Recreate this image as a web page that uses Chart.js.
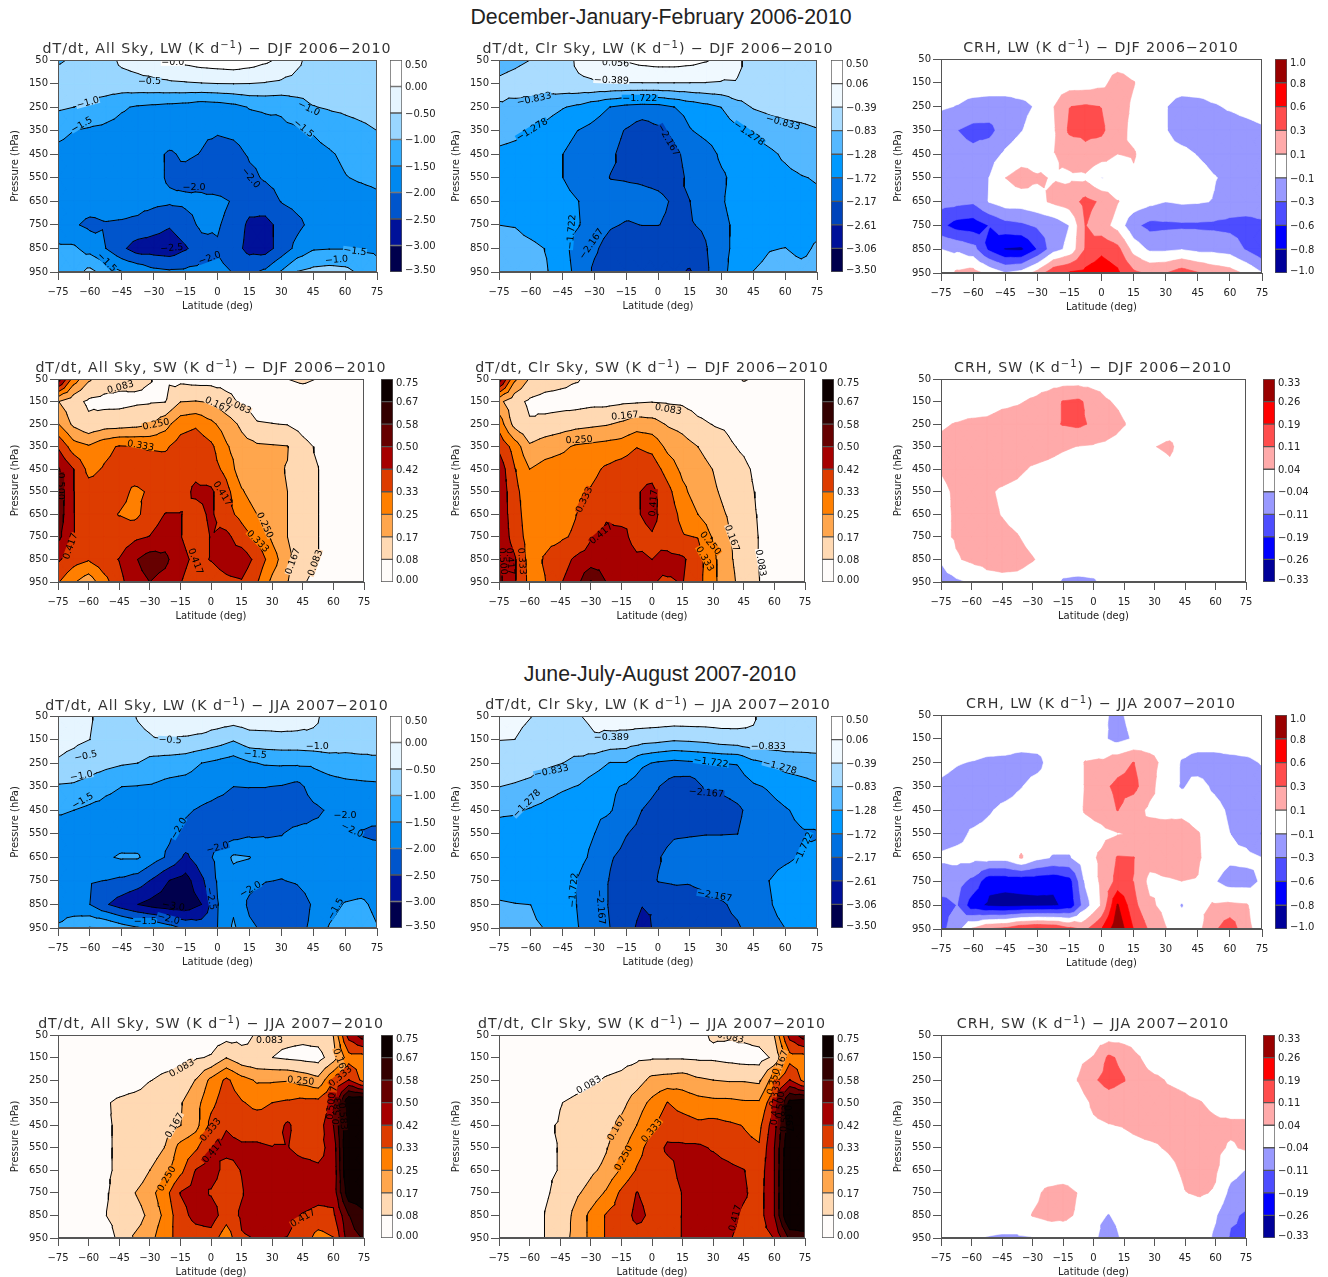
<!DOCTYPE html>
<html><head><meta charset="utf-8"><title>Radiative heating</title>
<script src="https://cdn.jsdelivr.net/npm/chart.js@4"></script>
<style>
body{margin:0;background:#fff;width:1328px;height:1277px;position:relative;overflow:hidden}
canvas{position:absolute}
.t{position:absolute;white-space:nowrap;transform:translate(-50%,-50%);font:14.2px "DejaVu Sans";letter-spacing:.95px;color:#333;line-height:18px}
.t sup{font-size:10px;line-height:0;vertical-align:5px}
.h{position:absolute;white-space:nowrap;transform:translate(-50%,-50%);font:21.3px "Liberation Sans";color:#222}
</style></head><body>
<script>
const latitudes=[-75,-67.5,-60,-52.5,-45,-37.5,-30,-22.5,-15,-7.5,0,7.5,15,22.5,30,37.5,45,52.5,60,67.5,75];
const pressures=[50,150,250,350,450,550,650,750,850,950];
const lwLevels=[-3.5,-3,-2.5,-2,-1.5,-1,-0.5,0,0.5];
const lwTicks=['−3.50','−3.00','−2.50','−2.00','−1.50','−1.00','−0.50','0.00','0.50'];
const clrLwLevels=[-3.5,-3.056,-2.611,-2.167,-1.722,-1.278,-0.833,-0.389,0.056,0.5];
const clrLwTicks=['−3.50','−3.06','−2.61','−2.17','−1.72','−1.28','−0.83','−0.39','0.06','0.50'];
const swLevels=[0,0.083,0.167,0.25,0.333,0.417,0.5,0.583,0.667,0.75];
const swTicks=['0.00','0.08','0.17','0.25','0.33','0.42','0.50','0.58','0.67','0.75'];
const crhLwLevels=[-1,-0.778,-0.556,-0.333,-0.111,0.111,0.333,0.556,0.778,1];
const crhLwTicks=['−1.0','−0.8','−0.6','−0.3','−0.1','0.1','0.3','0.6','0.8','1.0'];
const crhSwLevels=[-0.333,-0.259,-0.185,-0.111,-0.037,0.037,0.111,0.185,0.259,0.333];
const crhSwTicks=['−0.33','−0.26','−0.19','−0.11','−0.04','0.04','0.11','0.19','0.26','0.33'];

const djfAllLw=[
[-1.05,-.95,-.85,-.7,-.4,-.3,-.15,.05,.15,.25,.3,.35,.25,.1,-.1,-.4,-.7,-.8,-.85,-.9,-.9],
[-.8,-.78,-.75,-.72,-.7,-.65,-.62,-.58,-.55,-.52,-.5,-.49,-.5,-.53,-.58,-.65,-.72,-.76,-.8,-.82,-.85],
[-.92,-1,-1.07,-1.25,-1.45,-1.55,-1.6,-1.65,-1.7,-1.8,-1.75,-1.65,-1.47,-1.42,-1.43,-1.25,-1.02,-.95,-.9,-.85,-.8],
[-1.4,-1.5,-1.57,-1.62,-1.66,-1.7,-1.72,-1.75,-1.8,-1.92,-1.95,-1.9,-1.8,-1.7,-1.6,-1.55,-1.47,-1.33,-1.2,-1.1,-1],
[-1.6,-1.65,-1.7,-1.72,-1.75,-1.8,-1.9,-2.05,-1.93,-2.02,-2.2,-2.15,-1.95,-1.9,-1.8,-1.72,-1.63,-1.55,-1.42,-1.3,-1.25],
[-1.7,-1.72,-1.75,-1.77,-1.8,-1.83,-1.9,-2.05,-2.15,-2.25,-2.45,-2.45,-2.1,-1.95,-1.85,-1.78,-1.72,-1.65,-1.52,-1.45,-1.4],
[-1.75,-1.78,-1.8,-1.82,-1.83,-1.85,-1.88,-1.93,-1.9,-1.85,-1.85,-2.05,-2.3,-2.25,-1.98,-1.85,-1.78,-1.73,-1.7,-1.68,-1.6],
[-1.8,-1.95,-2.1,-2.03,-2.05,-2.1,-2.3,-2.45,-2.2,-1.9,-1.95,-2.2,-2.6,-2.65,-2.35,-2.12,-1.85,-1.75,-1.72,-1.7,-1.65],
[-1.42,-1.42,-1.7,-2,-2.4,-2.75,-2.75,-2.8,-2.55,-2.2,-2.05,-2.3,-2.65,-2.7,-2.3,-1.85,-1.55,-1.52,-1.52,-1.55,-1.58],
[-1.3,-1.2,-.85,-1.2,-1.48,-1.6,-1.85,-1.92,-1.9,-1.85,-1.85,-2.02,-2.1,-1.9,-1.45,-.98,-.85,-.8,-.85,-1.1,-1.35]];
const djfClrLw=[
[-.95,-.9,-.83,-.75,-.6,-.3,-.2,-.02,.1,.2,.25,.25,.2,.1,-.05,-.3,-.6,-.7,-.72,-.75,-.75],
[-.78,-.72,-.65,-.6,-.52,-.46,-.42,-.41,-.41,-.41,-.41,-.41,-.41,-.41,-.43,-.42,-.5,-.55,-.55,-.57,-.6],
[-.85,-.9,-.98,-1.1,-1.25,-1.37,-1.55,-1.73,-1.85,-1.9,-1.88,-1.73,-1.55,-1.42,-1.27,-1,-.8,-.7,-.65,-.6,-.55],
[-1.1,-1.17,-1.3,-1.42,-1.6,-1.73,-1.85,-2,-2.2,-2.4,-2.25,-2.08,-1.75,-1.6,-1.5,-1.35,-1.23,-1.1,-1,-.95,-.87],
[-1.37,-1.42,-1.45,-1.5,-1.72,-1.85,-1.95,-2.1,-2.3,-2.45,-2.45,-2.25,-2.05,-1.9,-1.65,-1.55,-1.45,-1.35,-1.22,-1.1,-1.05],
[-1.5,-1.53,-1.55,-1.6,-1.72,-1.85,-2,-2.18,-2.2,-2.22,-2.25,-2.3,-2.1,-1.95,-1.78,-1.6,-1.5,-1.42,-1.37,-1.3,-1.25],
[-1.55,-1.55,-1.57,-1.6,-1.63,-1.72,-1.85,-1.95,-2,-2.05,-2.1,-2.2,-2.17,-1.95,-1.75,-1.6,-1.55,-1.5,-1.47,-1.4,-1.35],
[-1.28,-1.3,-1.45,-1.55,-1.63,-1.7,-1.95,-2.12,-2.2,-2.16,-2.16,-2.22,-2.2,-2.1,-1.8,-1.65,-1.6,-1.55,-1.5,-1.45,-1.4],
[-1.1,-1.1,-1.17,-1.3,-1.6,-1.9,-2.1,-2.35,-2.45,-2.45,-2.45,-2.45,-2.4,-2.2,-1.85,-1.6,-1.45,-1.3,-1.27,-1.38,-1.22],
[-1,-1.05,-1.15,-1.25,-1.55,-1.85,-2.25,-2.4,-2.45,-2.5,-2.5,-2.52,-2.65,-2.25,-1.85,-1.5,-1.27,-1.15,-1.1,-1.15,-1.15]];
const djfCrhLw=[
[0,0,0,0,0,0,0,0,0,0,0,0,0,0,0,0,0,0,0,0,0],
[0,0,0,0,0,0,0,0,0,0,.05,.2,.12,0,0,0,0,0,0,0,0],
[-.08,-.12,-.18,-.2,-.2,-.16,-.09,.1,.33,.36,.33,.2,.08,0,-.1,-.2,-.18,-.13,-.09,-.05,-.02],
[-.25,-.33,-.4,-.4,-.22,-.12,-.02,.08,.37,.38,.37,.2,.05,0,-.1,-.2,-.22,-.2,-.2,-.18,-.14],
[-.2,-.25,-.28,-.2,-.08,0,.02,.1,.18,.28,.22,.11,.13,0,-.05,-.06,-.12,-.18,-.2,-.2,-.2],
[-.2,-.22,-.2,-.11,.11,.2,.13,.1,.08,.07,-.12,-.05,.08,0,0,0,-.03,-.1,-.15,-.2,-.2],
[-.25,-.27,-.3,-.1,0,0,.05,.15,.22,.4,.3,.12,.03,-.05,-.11,-.08,-.09,-.12,-.2,-.2,-.2],
[-.5,-.65,-.68,-.55,-.42,-.38,-.3,-.25,-.11,.34,.2,.03,-.28,-.4,-.38,-.37,-.37,-.38,-.4,-.42,-.38],
[-.11,-.15,-.25,-.6,-.8,-.82,-.55,-.2,-.05,.35,.5,.4,.03,-.15,-.15,-.12,-.17,-.17,-.2,-.35,-.5],
[-.05,.15,.2,.05,-.1,-.03,.2,.5,.58,.62,.7,.6,.38,.3,.33,.45,.35,.25,.2,.08,-.1]];
const djfAllSw=[
[.55,.3,.18,.13,.11,.1,.085,.07,.06,.05,.05,.05,.05,.06,.07,.083,.1,.08,.06,.05,.05],
[.17,.11,.07,.06,.06,.07,.075,.08,.165,.17,.16,.11,.07,.04,.03,.02,.02,.02,.02,.02,.02],
[.255,.15,.1,.125,.13,.14,.16,.22,.3,.32,.27,.21,.15,.09,.085,.08,.05,.02,.01,.01,.01],
[.41,.29,.26,.31,.34,.335,.325,.32,.37,.39,.35,.26,.2,.18,.175,.17,.11,.07,.02,.01,.01],
[.51,.42,.31,.34,.36,.37,.37,.38,.39,.4,.37,.31,.2,.18,.175,.165,.11,.085,.02,.01,.01],
[.55,.42,.37,.37,.36,.32,.34,.36,.39,.43,.43,.36,.26,.2,.175,.167,.11,.085,.02,.01,.01],
[.55,.42,.38,.36,.33,.31,.37,.42,.42,.39,.43,.36,.31,.25,.2,.167,.11,.085,.02,.01,.01],
[.52,.42,.38,.36,.37,.4,.42,.46,.42,.38,.42,.44,.37,.32,.235,.167,.11,.085,.02,.01,.01],
[.43,.37,.34,.39,.42,.49,.54,.52,.44,.4,.42,.45,.47,.39,.29,.19,.11,.085,.02,.01,.01],
[.34,.26,.2,.3,.39,.47,.5,.47,.42,.38,.38,.4,.41,.34,.23,.17,.09,.06,.02,.01,.01]];
const djfClrSw=[
[.55,.27,.16,.13,.11,.09,.07,.06,.05,.05,.05,.05,.05,.05,.05,.05,.09,.07,.04,.03,.03],
[.19,.11,.07,.05,.05,.05,.06,.06,.07,.075,.08,.075,.07,.05,.04,.03,.02,.02,.02,.02,.02],
[.3,.14,.09,.11,.125,.14,.15,.16,.18,.21,.2,.16,.14,.1,.08,.07,.04,.03,.02,.02,.02],
[.4,.3,.18,.21,.23,.26,.27,.28,.29,.33,.31,.23,.2,.167,.13,.095,.07,.03,.02,.02,.02],
[.47,.34,.25,.28,.29,.3,.31,.345,.37,.39,.38,.3,.23,.2,.165,.12,.1,.06,.02,.02,.02],
[.48,.36,.28,.29,.3,.32,.34,.37,.38,.41,.44,.36,.27,.21,.18,.14,.11,.07,.02,.02,.02],
[.48,.37,.29,.3,.3,.33,.37,.41,.39,.41,.44,.38,.31,.25,.2,.16,.12,.075,.02,.02,.02],
[.49,.38,.3,.31,.32,.345,.41,.43,.44,.39,.41,.38,.34,.33,.24,.175,.13,.08,.02,.02,.02],
[.51,.43,.3,.34,.38,.43,.45,.47,.46,.43,.417,.44,.43,.37,.27,.18,.135,.08,.02,.02,.02],
[.52,.43,.31,.33,.41,.46,.59,.5,.47,.45,.42,.41,.42,.36,.27,.19,.14,.085,.02,.02,.02]];
const djfCrhSw=[
[0,0,0,0,0,0,0,0,0,0,0,0,0,0,0,0,0,0,0,0,0],
[0,0,0,0,.02,.03,.045,.07,.115,.125,.08,.04,.02,0,0,0,0,0,0,0,0],
[.03,.04,.05,.055,.07,.07,.08,.09,.115,.125,.1,.07,.04,.01,0,0,0,0,0,0,0],
[.05,.06,.065,.07,.07,.07,.07,.06,.045,.035,.03,.02,.01,0,.035,.05,0,0,0,0,0],
[.04,.055,.06,.06,.06,.05,.03,.02,.01,0,0,0,0,0,0,.02,0,0,0,0,0],
[.025,.045,.05,.045,.03,.02,0,0,0,0,0,0,0,0,0,0,0,0,0,0,0],
[.02,.045,.055,.05,.035,.02,0,0,0,0,0,0,0,0,0,0,0,0,0,0,0],
[.02,.045,.06,.06,.05,.04,.02,0,0,0,0,0,0,0,0,0,0,0,0,0,0],
[-.03,.03,.05,.06,.06,.055,.04,.02,0,0,0,0,0,0,0,0,0,0,0,0,0],
[-.07,-.05,-.03,.01,.02,.02,.01,0,-.045,-.05,-.045,-.01,0,0,-.02,-.02,0,0,0,0,0]];
const jjaAllLw=[
[-.3,-.33,-.46,-.68,-.72,-.47,-.35,-.25,-.2,-.2,-.2,-.2,-.2,-.2,-.2,-.25,-.4,-.65,-.7,-.75,-.75],
[-.4,-.43,-.5,-.65,-.72,-.6,-.52,-.5,-.55,-.6,-.75,-.95,-.7,-.68,-.65,-.65,-.6,-.6,-.75,-.75,-.8],
[-.53,-.62,-.75,-.85,-.95,-1,-1.2,-1.25,-1.3,-1.5,-1.62,-1.75,-1.55,-1.45,-1.43,-1.43,-1.42,-1.3,-1.2,-1.15,-1.1],
[-1.05,-1.08,-1.2,-1.4,-1.5,-1.52,-1.55,-1.65,-1.7,-1.8,-1.9,-2,-1.99,-1.99,-2.03,-2.15,-1.8,-1.7,-1.65,-1.62,-1.6],
[-1.45,-1.5,-1.6,-1.65,-1.7,-1.72,-1.75,-1.8,-1.95,-2.05,-2.12,-2.15,-2.25,-2.25,-2.3,-2.3,-2.1,-1.95,-1.88,-1.85,-1.8],
[-1.7,-1.65,-1.6,-1.72,-1.72,-1.75,-1.82,-1.93,-2.1,-2.2,-2.2,-2.2,-2.08,-2.05,-2.02,-1.85,-1.85,-1.87,-1.9,-2.03,-2.1],
[-1.75,-1.75,-1.7,-1.55,-1.45,-1.45,-1.8,-2.1,-2.6,-2.2,-1.9,-1.42,-1.48,-1.75,-1.78,-1.78,-1.75,-1.75,-1.75,-1.75,-1.75],
[-1.8,-1.85,-1.97,-2.01,-2.1,-2.25,-2.6,-3.02,-3.2,-2.6,-1.95,-1.7,-1.85,-1.98,-2.02,-1.95,-1.8,-1.78,-1.75,-1.73,-1.72],
[-1.7,-1.75,-2,-2.45,-2.75,-3,-3.2,-3.3,-3.3,-3,-2.02,-1.6,-2.1,-2.3,-2.4,-2.25,-1.95,-1.65,-1.47,-1.42,-1.6],
[-1.45,-1.25,-.97,-.98,-1.25,-1.45,-1.55,-1.8,-2.1,-2.2,-2,-1.42,-1.9,-2.1,-2.2,-2.15,-1.9,-1.47,-1.3,-1.3,-1.48]];
const jjaClrLw=[
[-.3,-.3,-.38,-.6,-.7,-.41,-.3,-.2,-.15,-.1,-.1,-.1,-.1,-.12,-.15,-.2,-.35,-.6,-.65,-.7,-.85],
[-.38,-.39,-.5,-.6,-.65,-.55,-.43,-.5,-.55,-.65,-.7,-.78,-.75,-.7,-.6,-.55,-.45,-.5,-.55,-.58,-.6],
[-.6,-.65,-.7,-.75,-.83,-.95,-1.1,-1.3,-1.3,-1.65,-1.78,-1.85,-1.8,-1.75,-1.72,-1.7,-1.4,-1.27,-1.1,-1.05,-1],
[-.83,-.87,-.92,-1.1,-1.22,-1.3,-1.5,-1.65,-1.78,-2,-2.15,-2.4,-2.45,-2.1,-2.05,-1.95,-1.78,-1.68,-1.55,-1.45,-1.35],
[-1.2,-1.22,-1.32,-1.42,-1.5,-1.57,-1.65,-1.7,-1.9,-2.17,-2.3,-2.4,-2.45,-2.45,-2.4,-2.25,-2,-1.85,-1.75,-1.65,-1.55],
[-1.45,-1.5,-1.55,-1.55,-1.58,-1.6,-1.72,-1.9,-2.15,-2.3,-2.35,-2.22,-2.2,-2.18,-2.18,-2.17,-1.95,-1.85,-1.8,-1.75,-1.75],
[-1.5,-1.5,-1.52,-1.55,-1.58,-1.63,-1.8,-2.13,-2.3,-2.4,-2.2,-2,-1.95,-1.95,-1.93,-1.9,-1.87,-1.83,-1.78,-1.7,-1.63],
[-1.4,-1.42,-1.45,-1.5,-1.58,-1.75,-1.95,-2.2,-2.4,-2.45,-2.15,-2.1,-2.12,-2.05,-2,-1.95,-1.88,-1.72,-1.6,-1.55,-1.5],
[-1.25,-1.27,-1.28,-1.45,-1.55,-1.75,-2,-2.2,-2.45,-2.6,-2.6,-2.5,-2.4,-2.28,-2.2,-2.1,-1.95,-1.75,-1.6,-1.55,-1.5],
[-1.1,-1.15,-1.2,-1.3,-1.5,-1.72,-1.95,-2.17,-2.5,-2.7,-2.55,-2.45,-2.4,-2.3,-2.25,-2.2,-2.05,-1.82,-1.72,-1.6,-1.5]];
const jjaCrhLw=[
[0,0,0,0,0,0,0,0,0,0,-.08,-.15,-.05,0,0,0,0,0,0,0,0],
[0,0,0,0,0,0,0,0,0,0,-.07,-.18,-.09,0,0,0,0,0,0,0,0],
[-.06,-.1,-.12,-.15,-.16,-.2,-.18,0,.03,.12,.14,.25,.34,.18,.05,-.13,-.2,-.2,-.17,-.15,-.1],
[-.14,-.17,-.2,-.22,-.2,-.12,-.03,0,0,.12,.28,.38,.4,.18,-.02,-.13,-.05,-.14,-.2,-.2,-.18],
[-.17,-.18,-.2,-.13,-.06,-.02,0,0,0,.13,.2,.34,.2,.07,.05,.03,-.03,-.05,-.14,-.2,-.2],
[-.2,-.17,-.08,-.05,0,.03,0,0,0,.02,.05,.1,.13,.2,.2,.25,.13,-.02,-.11,-.2,-.35],
[-.08,-.05,-.05,-.03,-.03,.13,-.05,-.13,-.13,.03,.15,.35,.34,.2,.2,.2,.14,0,-.07,-.05,-.11],
[-.22,-.25,-.4,-.72,-.72,-.72,-.72,-.74,-.65,-.08,.15,.4,.33,.05,.09,.11,.1,-.09,-.2,-.2,-.08],
[-.4,-.33,-.7,-.82,-.85,-.83,-.82,-.81,-.72,-.2,.13,.8,.4,.15,.05,-.13,.05,.13,.15,.13,0],
[-.4,-.2,.15,.35,.4,.55,.6,.57,.4,.3,.55,.95,.55,.3,.12,.03,.05,.28,.5,.15,.05]];
const jjaAllSw=[
[.01,.01,.01,.01,.01,.01,.01,.02,.03,.03,.04,.05,.06,.09,.1,.1,.1,.12,.17,.45,.55],
[.01,.01,.01,.02,.02,.03,.04,.05,.06,.075,.09,.165,.11,.095,.083,.07,.06,.05,.13,.3,.3],
[.01,.01,.01,.02,.03,.04,.08,.1,.11,.17,.27,.35,.28,.24,.24,.245,.22,.19,.33,.42,.3],
[.01,.01,.01,.07,.1,.12,.13,.14,.16,.22,.31,.38,.34,.31,.333,.345,.36,.36,.42,.76,.78],
[.01,.01,.01,.075,.09,.12,.13,.14,.165,.22,.36,.41,.38,.38,.37,.43,.37,.37,.5,.76,.78],
[.01,.01,.01,.075,.09,.105,.12,.17,.28,.32,.41,.44,.43,.43,.42,.42,.39,.39,.45,.78,.78],
[.01,.01,.01,.075,.09,.1,.167,.22,.31,.42,.45,.39,.42,.46,.47,.46,.45,.43,.44,.78,.78],
[.01,.01,.01,.075,.1,.165,.22,.3,.42,.45,.41,.38,.41,.47,.48,.48,.47,.45,.45,.72,.72],
[.01,.01,.01,.08,.1,.12,.19,.27,.39,.44,.46,.37,.43,.45,.46,.44,.41,.39,.4,.58,.65],
[.01,.01,.01,.05,.095,.18,.22,.31,.36,.38,.38,.28,.41,.42,.42,.415,.38,.3,.33,.55,.59]];
const jjaClrSw=[
[.01,.01,.01,.01,.01,.01,.01,.01,.01,.01,.01,.02,.05,.07,.09,.09,.1,.12,.17,.45,.55],
[.01,.01,.01,.02,.02,.03,.04,.05,.06,.07,.075,.075,.075,.07,.07,.06,.05,.05,.1,.3,.3],
[.01,.01,.01,.02,.03,.05,.07,.09,.1,.13,.19,.2,.21,.18,.167,.16,.16,.15,.3,.42,.3],
[.01,.01,.01,.03,.08,.1,.115,.125,.14,.21,.27,.335,.3,.28,.27,.27,.26,.26,.4,.7,.72],
[.01,.01,.01,.07,.09,.105,.115,.13,.19,.25,.32,.38,.37,.35,.36,.345,.33,.31,.47,.72,.76],
[.01,.01,.01,.075,.085,.1,.11,.16,.23,.3,.37,.43,.43,.43,.41,.38,.35,.34,.5,.76,.78],
[.01,.01,.01,.075,.085,.1,.15,.19,.26,.34,.38,.39,.44,.45,.45,.44,.42,.37,.5,.78,.78],
[.01,.01,.01,.075,.1,.15,.2,.26,.35,.42,.39,.38,.42,.46,.46,.46,.43,.38,.5,.78,.78],
[.01,.01,.01,.085,.11,.19,.27,.34,.37,.44,.4,.38,.42,.46,.46,.45,.4,.38,.5,.78,.78],
[.01,.01,.01,.085,.13,.19,.27,.34,.37,.38,.39,.39,.42,.46,.46,.425,.39,.38,.42,.6,.62]];
const jjaCrhSw=[
[0,0,0,0,0,0,0,0,0,0,0,0,0,0,0,0,0,0,0,0,0],
[0,0,0,0,0,0,0,0,0,.02,.04,.125,.09,.04,0,0,0,0,0,0,0],
[0,0,0,0,0,0,0,0,0,.04,.1,.14,.115,.06,.05,.03,.02,0,0,0,0],
[0,0,0,0,0,0,0,0,0,0,.05,.07,.06,.06,.06,.06,.05,.04,.02,0,0],
[0,0,0,0,0,0,0,0,0,0,.025,.035,.04,.05,.06,.06,.06,.06,.05,.05,.05],
[0,0,0,0,0,0,0,0,0,0,0,0,.02,.025,.03,.045,.06,.06,.05,.03,.045],
[0,0,0,0,0,0,0,0,0,0,0,0,0,0,0,.02,.05,.07,.045,-.01,-.04],
[0,0,0,0,0,0,.02,.05,.06,.035,0,0,0,0,0,0,.035,.045,.03,-.06,-.08],
[0,0,0,0,0,0,.04,.055,.05,.03,-.02,-.04,-.01,0,0,0,0,0,-.03,-.1,-.12],
[0,0,-.02,-.04,-.045,-.045,-.04,-.02,0,0,-.02,-.08,-.02,0,0,0,0,0,-.05,-.12,-.12]];

const djfAllLwLabels=[['−0.0',-21,60,0],['−0.5',-32,140,0],['−1.0',-61,230,-15],['−1.5',-64,325,-30],['−1.0',43,255,25],['−1.5',40.5,340,40],['−2.0',-11,590,0],['−2.0',15.7,550,50],['−2.5',-21.5,847,-5],['−2.0',-3.7,890,-20],['−1.5',64.6,860,8],['−1.0',56,897,-5],['−1.5',-52,908,45]];
const djfClrLwLabels=[['0.056',-20,62,3],['−0.389',-22,135,2],['−0.833',-58.5,215,-12],['−1.278',-59.5,345,-32],['−1.722',-8.6,212,0],['−2.167',5,390,60],['−1.278',43,361,35],['−0.833',59,315,15],['−1.722',-41,780,-85],['−2.167',-31.5,830,-55]];
const djfAllSwLabels=[['0.083',-44.4,85,-15],['0.083',13.4,168,25],['0.167',3.3,164,25],['0.250',-27,250,-12],['0.333',-34.5,344,10],['0.500',-73.7,525,90],['0.417',5.7,558,58],['0.250',26.5,698,65],['0.333',23,769,45],['0.167',40,858,-70],['0.083',51,865,-70],['0.417',-69,791,-70],['0.417',-7.5,858,70]];
const djfClrSwLabels=[['0.083',8,183,10],['0.167',-13.3,212,-5],['0.250',-35.7,319,-3],['0.333',-33.3,585,-65],['0.417',0.6,600,-85],['0.417',-25,735,-40],['0.250',28.7,777,50],['0.333',26,847,60],['0.167',39.3,755,70],['0.083',53.4,865,80],['0.500',-73,858,85],['0.417',-69.4,858,85],['0.333',-63.7,858,85]];
const jjaAllLwLabels=[['−0.5',-62,219,-12],['−0.5',-22.3,151,3],['−1.0',46.9,176,0],['−1.5',17.8,212,5],['−1.0',-64,303,-10],['−1.5',-63.5,409,-30],['−2.0',-18.4,527,-60],['−2.0',60,470,0],['−2.0',63.4,534,25],['−2.0',0,608,-15],['−2.0',15.4,785,-30],['−2.5',-3,825,80],['−3.0',-20.7,856,10],['−1.5',-34,922,0],['−2.0',-23,910,15],['−1.5',55.5,868,-60]];
const jjaClrLwLabels=[['−0.389',-22,139,0],['−0.833',-50.3,283,-12],['−1.278',-62,421,-45],['−1.722',-40,790,-85],['−2.167',-27,861,85],['−2.167',22.8,375,5],['−1.722',25,245,8],['−1.278',57.4,265,15],['−0.833',52,179,0],['−1.722',68.4,612,-65],['−2.167',26.7,812,10]];
const jjaAllSwLabels=[['0.083',28.7,74,0],['0.083',-14.4,196,-30],['0.167',-18,450,-60],['0.333',-0.3,470,-50],['0.417',0.8,565,-50],['0.250',-21.8,687,-60],['0.250',44,252,5],['0.417',45,861,-30],['0.167',63.4,167,70],['0.333',63.4,233,-40],['0.417',59.3,336,-80],['0.500',58.8,366,-85],['0.583',61.8,388,-85],['0.583',64.7,410,85]];
const jjaClrSwLabels=[['0.083',38.5,59,12],['0.083',-31,270,-30],['0.167',-17.4,462,-60],['0.250',-14,595,-60],['0.333',-0.2,474,-50],['0.417',40.7,861,-75],['0.167',63,176,-70],['0.250',59.5,257,-75],['0.333',60.3,309,-80],['0.417',60.3,390,-85],['0.500',62.8,360,-85],['0.583',65,420,-85],['0.667',67,420,85]];

const blues8=['#00004d','#001199','#0055cc','#0088f0','#33adff','#99d6ff','#e6f5ff','#ffffff'];
const blues9=['#00004d','#001199','#0044bb','#0070e0','#0099ff','#55b8ff','#aadcff','#f0f9ff','#ffffff'];
const oranges=['#fffcfa','#ffd9b3','#ffa64d','#ff7f00','#dd3c00','#a60000','#660000','#330000','#0d0000'];
const bwr=['#000099','#0000ff','#4d4dff','#9999ff','#ffffff','#ffaaaa','#ff4d4d','#ff0000','#990000'];

const panels=[
{s:'dT/dt, All Sky, LW',p:'DJF 2006−2010',g:djfAllLw,l:lwLevels,t:lwTicks,c:blues8,lb:djfAllLwLabels,r:[58,377,60,272],b:[390,402],tc:[217,48]},
{s:'dT/dt, Clr Sky, LW',p:'DJF 2006−2010',g:djfClrLw,l:clrLwLevels,t:clrLwTicks,c:blues9,lb:djfClrLwLabels,r:[499,817,60,272],b:[831,843],tc:[658,48]},
{s:'CRH, LW',p:'DJF 2006−2010',g:djfCrhLw,l:crhLwLevels,t:crhLwTicks,c:bwr,r:[941,1262,59,273],b:[1275,1287],tc:[1101,47]},
{s:'dT/dt, All Sky, SW',p:'DJF 2006−2010',g:djfAllSw,l:swLevels,t:swTicks,c:oranges,lb:djfAllSwLabels,r:[58,364,379,582],b:[381,393],tc:[211,367]},
{s:'dT/dt, Clr Sky, SW',p:'DJF 2006−2010',g:djfClrSw,l:swLevels,t:swTicks,c:oranges,lb:djfClrSwLabels,r:[499,805,379,582],b:[822,834],tc:[652,367]},
{s:'CRH, SW',p:'DJF 2006−2010',g:djfCrhSw,l:crhSwLevels,t:crhSwTicks,c:bwr,r:[941,1246,379,582],b:[1263,1275],tc:[1093,367]},
{s:'dT/dt, All Sky, LW',p:'JJA 2007−2010',g:jjaAllLw,l:lwLevels,t:lwTicks,c:blues8,lb:jjaAllLwLabels,r:[58,377,716,928],b:[390,402],tc:[217,705]},
{s:'dT/dt, Clr Sky, LW',p:'JJA 2007−2010',g:jjaClrLw,l:clrLwLevels,t:clrLwTicks,c:blues9,lb:jjaClrLwLabels,r:[499,817,716,928],b:[831,843],tc:[658,704]},
{s:'CRH, LW',p:'JJA 2007−2010',g:jjaCrhLw,l:crhLwLevels,t:crhLwTicks,c:bwr,r:[941,1262,715,929],b:[1275,1287],tc:[1101,703]},
{s:'dT/dt, All Sky, SW',p:'JJA 2007−2010',g:jjaAllSw,l:swLevels,t:swTicks,c:oranges,lb:jjaAllSwLabels,r:[58,364,1035,1238],b:[381,393],tc:[211,1023]},
{s:'dT/dt, Clr Sky, SW',p:'JJA 2007−2010',g:jjaClrSw,l:swLevels,t:swTicks,c:oranges,lb:jjaClrSwLabels,r:[499,805,1035,1238],b:[822,834],tc:[652,1023]},
{s:'CRH, SW',p:'JJA 2007−2010',g:jjaCrhSw,l:crhSwLevels,t:crhSwTicks,c:bwr,r:[941,1246,1035,1238],b:[1263,1275],tc:[1093,1023]}
];
const AX='#555',FONT={family:'"DejaVu Sans"',size:10};
Chart.defaults.font.family='"DejaVu Sans"';Chart.defaults.color='#222';

function triangles(g){const out=[];
 for(let j=0;j<pressures.length-1;j++)for(let i=0;i<latitudes.length-1;i++){
  const a={x:latitudes[i],y:pressures[j],v:g[j][i]},b={x:latitudes[i+1],y:pressures[j],v:g[j][i+1]},
        c={x:latitudes[i+1],y:pressures[j+1],v:g[j+1][i+1]},d={x:latitudes[i],y:pressures[j+1],v:g[j+1][i]},
        m={x:(a.x+b.x)/2,y:(a.y+d.y)/2,v:(a.v+b.v+c.v+d.v)/4};
  out.push([a,b,m],[b,c,m],[c,d,m],[d,a,m]);}
 return out;}
function cross(p,q,l){const t=(l-p.v)/(q.v-p.v);return{x:p.x+t*(q.x-p.x),y:p.y+t*(q.y-p.y),v:l};}
function clipAbove(tri,l){const o=[];for(let i=0;i<3;i++){const p=tri[i],q=tri[(i+1)%3],pi=p.v>=l,qi=q.v>=l;
  if(pi)o.push(p);if(pi!==qi)o.push(cross(p,q,l));}return o;}
function contour(ts,l){const d=[];ts.forEach(t=>{const e=[];for(let i=0;i<3;i++){const p=t[i],q=t[(i+1)%3];
  if((p.v>=l)!==(q.v>=l))e.push(cross(p,q,l));}
  if(e.length===2)d.push({x:e[0].x,y:e[0].y},{x:e[1].x,y:e[1].y},{x:NaN,y:NaN});});return d;}
function sample(g,lat,p){const fi=Math.min(19.999,Math.max(0,(lat+75)/7.5)),fj=Math.min(8.999,Math.max(0,(p-50)/100));
 const i=Math.floor(fi),j=Math.floor(fj),u=fi-i,w=fj-j;
 return g[j][i]*(1-u)*(1-w)+g[j][i+1]*u*(1-w)+g[j+1][i]*(1-u)*w+g[j+1][i+1]*u*w;}

const fieldPlugin={id:'field',
 beforeDatasetsDraw(ch){const P=ch.options.plugins.field,{ctx,chartArea:a,scales:{x,y}}=ch;
  ctx.save();ctx.beginPath();ctx.rect(a.left,a.top,a.width,a.height);ctx.clip();
  ctx.fillStyle=P.c[0];ctx.fillRect(a.left,a.top,a.width,a.height);
  for(let k=1;k<P.c.length;k++){ctx.beginPath();
   P.ts.forEach(t=>{const o=clipAbove(t,P.l[k]);if(o.length<3)return;
    o.forEach((q,n)=>{const X=x.getPixelForValue(q.x),Y=y.getPixelForValue(q.y);n?ctx.lineTo(X,Y):ctx.moveTo(X,Y);});ctx.closePath();});
   ctx.fillStyle=P.c[k];ctx.strokeStyle=P.c[k];ctx.lineWidth=.6;ctx.fill();ctx.stroke();}
  ctx.restore();},
 afterDatasetsDraw(ch){const P=ch.options.plugins.field,{ctx,chartArea:a,scales:{x,y}}=ch;
  ctx.save();ctx.beginPath();ctx.rect(a.left,a.top,a.width,a.height);ctx.clip();
  ctx.font='9.5px "DejaVu Sans"';ctx.textAlign='center';ctx.textBaseline='middle';
  (P.lb||[]).forEach(([s,lat,p,r])=>{const v=sample(P.g,lat,p);let k=0;while(k<P.c.length-1&&v>=P.l[k+1])k++;
   const w=ctx.measureText(s).width+1;ctx.save();ctx.translate(x.getPixelForValue(lat),y.getPixelForValue(p));ctx.rotate(r*Math.PI/180);
   ctx.fillStyle=P.c[k];ctx.fillRect(-w/2,-3.5,w,7);ctx.fillStyle='#000';ctx.fillText(s,0,.5);ctx.restore();});
  ctx.restore();
  ctx.strokeStyle=AX;ctx.lineWidth=1;ctx.strokeRect(a.left+.5,a.top+.5,a.width-1,a.height-1);}};
Chart.register(fieldPlugin);

function addCanvas(l,t,w,h){const c=document.createElement('canvas');c.width=w;c.height=h;c.style.cssText=`left:${l}px;top:${t}px;width:${w}px;height:${h}px`;document.body.appendChild(c);return c;}
function head(s,x,y){const d=document.createElement('div');d.className='h';d.textContent=s;d.style.left=x+'px';d.style.top=y+'px';document.body.appendChild(d);}
head('December-January-February 2006-2010',661,17);
head('June-July-August 2007-2010',660,674);

panels.forEach(P=>{
 const [x0,x1,y0,y1]=P.r,L=49,T=12,R=20,B=40;
 const ts=triangles(P.g),ds=[{label:'grid',data:P.g.flatMap((row,j)=>row.map((v,i)=>({x:latitudes[i],y:pressures[j],v}))),pointRadius:0,showLine:false}];
 if(P.lb)P.l.slice(1,-1).forEach(l=>ds.push({label:String(l),data:contour(ts,l),showLine:true,spanGaps:false,pointRadius:0,borderColor:'#000',borderWidth:1,borderCapStyle:'round',borderJoinStyle:'round',tension:0}));
 new Chart(addCanvas(x0-L,y0-T,x1-x0+L+R,y1-y0+T+B),{type:'scatter',data:{datasets:ds},options:{
  responsive:false,animation:false,events:[],layout:{padding:{top:T,right:R}},
  plugins:{legend:{display:false},tooltip:{enabled:false},title:{display:false},field:{ts,g:P.g,l:P.l,c:P.c,lb:P.lb}},
  scales:{
   x:{type:'linear',min:-75,max:75,afterFit:s=>{s.height=B;},
    ticks:{stepSize:15,autoSkip:false,maxRotation:0,padding:6,font:FONT,color:'#222',callback:v=>String(v).replace('-','−')},
    grid:{display:true,drawOnChartArea:false,tickLength:8,tickColor:AX},border:{color:AX},
    title:{display:true,text:'Latitude (deg)',font:FONT,color:'#222',padding:{top:1,bottom:0}}},
   y:{type:'linear',reverse:true,min:50,max:950,afterFit:s=>{s.width=L;},
    ticks:{stepSize:100,autoSkip:false,padding:2,font:FONT,color:'#222'},
    grid:{display:true,drawOnChartArea:false,tickLength:8,tickColor:AX},border:{color:AX},
    title:{display:true,text:'Pressure (hPa)',font:FONT,color:'#222',padding:{top:0,bottom:1}}}}}});
 // colour bar
 const [b0,b1]=P.b,n=P.c.length,W=40;
 new Chart(addCanvas(b0,y0-T,b1-b0+W,y1-y0+2*T),{type:'bar',data:{labels:[''],datasets:P.c.map((col,i)=>({label:P.t[i],data:[1],backgroundColor:col,borderColor:AX,borderWidth:1,borderSkipped:false,barPercentage:1,categoryPercentage:1}))},options:{
  responsive:false,animation:false,events:[],layout:{padding:{top:T,bottom:T}},
  plugins:{legend:{display:false},tooltip:{enabled:false},title:{display:false},field:false},
  scales:{x:{stacked:true,display:false},
   y:{stacked:true,position:'right',min:0,max:n,afterFit:s=>{s.width=W;},
    afterBuildTicks:s=>{s.ticks=P.t.map((_,i)=>({value:i===0?0.07:i===n?n-0.2:i-0.05}));},
    ticks:{autoSkip:false,padding:3,font:FONT,color:'#222',callback:(v,i)=>P.t[i]},
    grid:{display:false,drawTicks:false},border:{display:false}}}}});
 const d=document.createElement('div');d.className='t';d.innerHTML=`${P.s} (K d<sup>−1</sup>) − ${P.p}`;d.style.left=P.tc[0]+'px';d.style.top=P.tc[1]+'px';document.body.appendChild(d);
});
</script>
</body></html>
